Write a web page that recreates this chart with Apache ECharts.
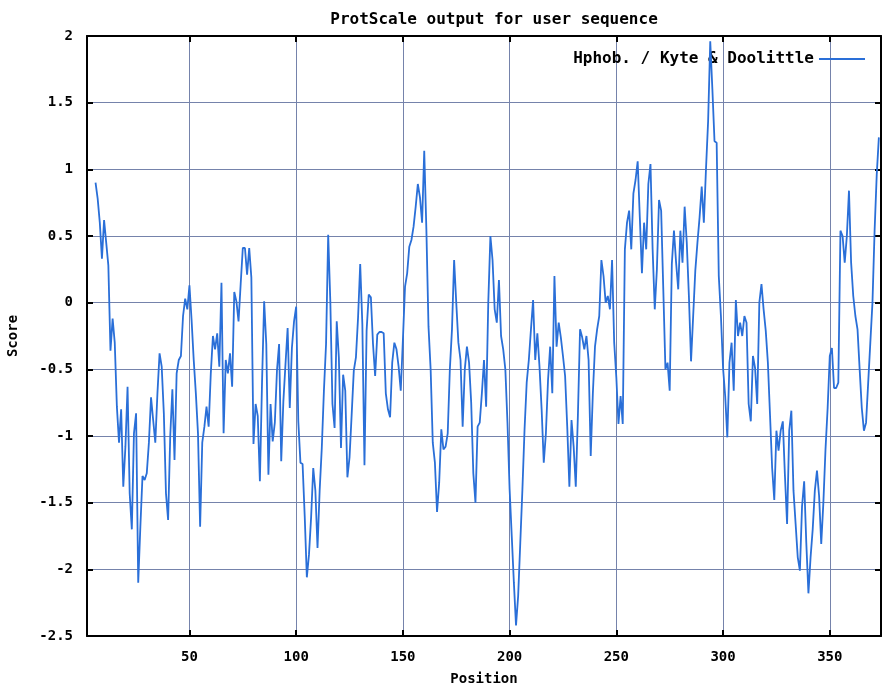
<!DOCTYPE html>
<html>
<head>
<meta charset="utf-8">
<script src="https://cdn.jsdelivr.net/npm/echarts@6/dist/echarts.min.js"></script>
<style>
  html, body { margin: 0; padding: 0; background: #ffffff; }
  #chart { width: 886px; height: 691px; }
</style>
</head>
<body>
<div id="chart"></div>
<script>
// Kyte & Doolittle hydropathy profile (window-averaged score per residue position)
const chartTitle = 'ProtScale output for user sequence';
const seriesName = 'Hphob. / Kyte & Doolittle';
const firstPosition = 6;
const scores = [
  0.9, 0.78, 0.6, 0.33, 0.62, 0.45, 0.28, -0.36, -0.12, -0.3,
  -0.78, -1.05, -0.8, -1.38, -1.08, -0.63, -1.43, -1.7, -0.98, -0.83,
  -2.1, -1.68, -1.3, -1.33, -1.28, -1.05, -0.71, -0.88, -1.05, -0.68,
  -0.38, -0.48, -0.83, -1.43, -1.63, -1.0, -0.65, -1.18, -0.53, -0.43,
  -0.4, -0.1, 0.03, -0.05, 0.13, -0.13, -0.43, -0.68, -0.98, -1.68,
  -1.05, -0.93, -0.78, -0.93, -0.53, -0.25, -0.35, -0.23, -0.48, 0.15,
  -0.98, -0.43, -0.53, -0.38, -0.63, 0.08, 0.01, -0.14, 0.14, 0.41,
  0.41, 0.21, 0.41, 0.19, -1.06, -0.76, -0.85, -1.34, -0.6, 0.01,
  -0.31, -1.29, -0.76, -1.04, -0.9, -0.51, -0.31, -1.19, -0.74, -0.46,
  -0.19, -0.79, -0.34, -0.14, -0.03, -0.89, -1.2, -1.21, -1.6, -2.06,
  -1.89, -1.61, -1.24, -1.41, -1.84, -1.41, -1.09, -0.66, -0.31, 0.51,
  0.01, -0.76, -0.94, -0.14, -0.41, -1.09, -0.54, -0.66, -1.31, -1.16,
  -0.84, -0.51, -0.41, -0.11, 0.29, -0.16, -1.22, -0.21, 0.06, 0.04,
  -0.31, -0.55, -0.24, -0.22, -0.22, -0.23, -0.68, -0.8, -0.86, -0.45,
  -0.3, -0.35, -0.48, -0.66, -0.28, 0.12, 0.22, 0.42, 0.47, 0.57,
  0.72, 0.89, 0.79, 0.6, 1.14, 0.55, -0.18, -0.5, -1.05, -1.2,
  -1.57, -1.35, -0.95, -1.1, -1.08, -0.98, -0.5, -0.2, 0.32, 0.0,
  -0.3, -0.43, -0.93, -0.5, -0.33, -0.45, -0.75, -1.28, -1.5, -0.93,
  -0.9, -0.68, -0.43, -0.78, 0.0, 0.5, 0.32, -0.05, -0.15, 0.17,
  -0.25, -0.35, -0.5, -0.9, -1.4, -1.75, -2.1, -2.42, -2.2, -1.8,
  -1.4, -0.95, -0.6, -0.43, -0.2, 0.02, -0.43, -0.23, -0.48, -0.8,
  -1.2, -0.98, -0.58, -0.33, -0.68, 0.2, -0.33, -0.15, -0.26, -0.4,
  -0.55, -0.93, -1.38, -0.88, -1.08, -1.38, -0.84, -0.2, -0.26, -0.35,
  -0.25, -0.43, -1.15, -0.68, -0.33, -0.2, -0.1, 0.32, 0.2, 0.0,
  0.05, -0.05, 0.32, -0.3, -0.56, -0.91, -0.7, -0.91, 0.4, 0.6,
  0.69, 0.4, 0.82, 0.92, 1.06, 0.64, 0.22, 0.6, 0.4, 0.89,
  1.04, 0.4, -0.05, 0.25, 0.77, 0.69, 0.1, -0.5, -0.45, -0.66,
  0.29, 0.54, 0.3, 0.1, 0.54, 0.3, 0.72, 0.45, 0.05, -0.44,
  -0.1, 0.24, 0.45, 0.64, 0.87, 0.6, 1.0, 1.36, 1.96, 1.6,
  1.21, 1.2, 0.2, -0.1, -0.49, -0.7, -1.01, -0.45, -0.3, -0.66,
  0.02, -0.25, -0.15, -0.25, -0.1, -0.15, -0.76, -0.89, -0.4, -0.49,
  -0.76, 0.0, 0.14, -0.05, -0.21, -0.45, -0.84, -1.24, -1.48, -0.96,
  -1.11, -0.96, -0.89, -1.3, -1.66, -0.96, -0.81, -1.41, -1.66, -1.91,
  -2.01, -1.53, -1.34, -1.8, -2.18, -1.91, -1.7, -1.41, -1.26, -1.45,
  -1.81, -1.5, -1.1, -0.79, -0.4, -0.34, -0.64, -0.64, -0.6, 0.54,
  0.5, 0.3, 0.5, 0.84, 0.3, 0.05, -0.1, -0.2, -0.5, -0.79,
  -0.96, -0.9, -0.6, -0.3, 0.0, 0.54, 0.96, 1.24
];
const xTicks = [50, 100, 150, 200, 250, 300, 350];
const xRange = [2, 374];
const yRange = [-2.5, 2];
const yStep = 0.5;

const points = scores.map((s, i) => [firstPosition + i, s]);

const FONT = "'DejaVu Sans Mono', 'Liberation Mono', monospace";
const gridColor = '#7583ab';
const frameStyle = { color: '#000', width: 2 };
const tickStyle = { show: true, inside: true, length: 6, lineStyle: { color: '#000', width: 2 } };

const chart = echarts.init(document.getElementById('chart'), null, { renderer: 'canvas' });
chart.setOption({
  backgroundColor: '#ffffff',
  animation: false,
  title: {
    text: chartTitle,
    left: 489,
    top: 7,
    textAlign: 'center',
    textStyle: { fontFamily: FONT, fontWeight: 'bold', fontSize: 16, color: '#000' }
  },
  legend: {
    right: 16,
    top: 46,
    align: 'right',
    icon: 'rect',
    itemWidth: 46,
    itemHeight: 2,
    textStyle: { fontFamily: FONT, fontWeight: 'bold', fontSize: 16, color: '#000' }
  },
  grid: { left: 87, right: 5, top: 36, bottom: 55, containLabel: false, outerBoundsMode: 'none' },
  xAxis: [
    {
      type: 'value', min: xRange[0], max: xRange[1], position: 'bottom',
      name: 'Position', nameLocation: 'middle', nameGap: 36,
      nameTextStyle: { fontFamily: FONT, fontWeight: 'bold', fontSize: 14, color: '#000' },
      axisLine: { show: true, onZero: false, lineStyle: frameStyle },
      axisTick: Object.assign({ customValues: xTicks }, tickStyle),
      axisLabel: { customValues: xTicks, margin: 14, fontFamily: FONT, fontWeight: 'bold', fontSize: 14, color: '#000' },
      splitLine: { show: true, customValues: xTicks, lineStyle: { color: gridColor, width: 1 } }
    },
    {
      type: 'value', min: xRange[0], max: xRange[1], position: 'top',
      axisLine: { show: true, onZero: false, lineStyle: frameStyle },
      axisTick: Object.assign({ customValues: xTicks }, tickStyle),
      axisLabel: { show: false },
      splitLine: { show: false }
    }
  ],
  yAxis: [
    {
      type: 'value', min: yRange[0], max: yRange[1], interval: yStep, position: 'left',
      name: 'Score', nameLocation: 'middle', nameGap: 67, nameRotate: 90,
      nameTextStyle: { fontFamily: FONT, fontWeight: 'bold', fontSize: 14, color: '#000' },
      axisLine: { show: true, onZero: false, lineStyle: frameStyle },
      axisTick: tickStyle,
      axisLabel: { margin: 14, fontFamily: FONT, fontWeight: 'bold', fontSize: 14, color: '#000' },
      splitLine: { show: true, lineStyle: { color: gridColor, width: 1 } }
    },
    {
      type: 'value', min: yRange[0], max: yRange[1], interval: yStep, position: 'right',
      axisLine: { show: true, onZero: false, lineStyle: frameStyle },
      axisTick: tickStyle,
      axisLabel: { show: false },
      splitLine: { show: false }
    }
  ],
  series: [
    {
      name: seriesName,
      type: 'line',
      xAxisIndex: 0,
      yAxisIndex: 0,
      data: points,
      showSymbol: false,
      symbol: 'none',
      lineStyle: { color: '#2a6fd8', width: 1.8 },
      itemStyle: { color: '#2a6fd8' },
      z: 5
    }
  ]
});
</script>
</body>
</html>
